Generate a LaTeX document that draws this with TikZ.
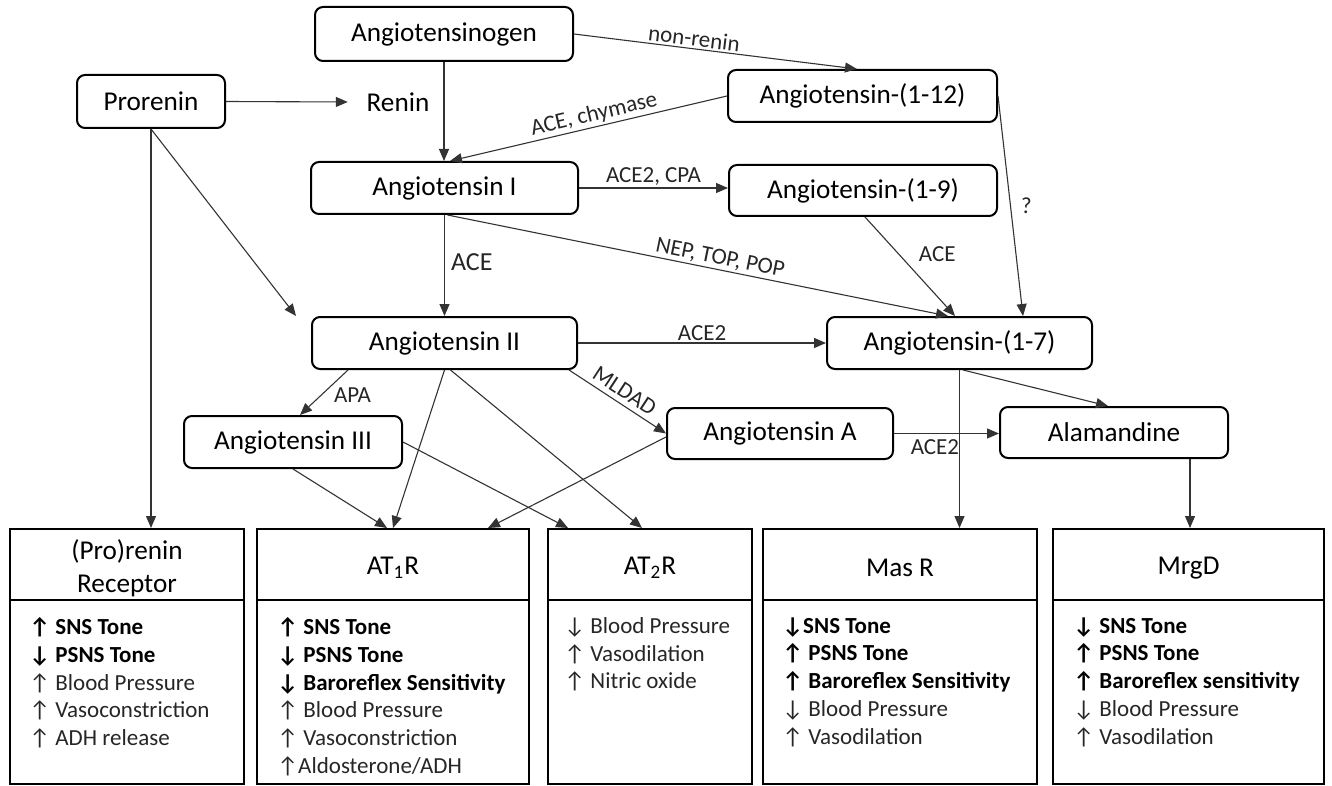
\documentclass[tikz,border=0pt]{standalone}
\usepackage{fontspec}
\setmainfont{Carlito}
\usetikzlibrary{arrows.meta,calc}
\tikzset{
  box/.style={draw=black, line width=1pt, rounded corners=4pt, font=\fontsize{13.6}{16}\selectfont, inner sep=0pt},
  arr/.style={draw=black!80, line width=0.55pt, -{Triangle[length=6pt,width=5pt]}},
  lbl/.style={font=\fontsize{11.5}{13}\selectfont, text=black!85, inner sep=1pt},
  biglbl/.style={font=\fontsize{13}{15}\selectfont, text=black!85, inner sep=1pt},
  hdr/.style={draw=black, line width=1pt, inner sep=0pt},
  hdrtext/.style={font=\fontsize{13.6}{16.5}\selectfont, align=center, inner sep=0pt},
  bodybox/.style={draw=black, line width=1pt, inner sep=0pt},
  items/.style={font=\fontsize{11.5}{13.9}\selectfont, align=left, anchor=north west, inner sep=0pt, text=black!85},
}
\begin{document}
\begin{tikzpicture}[x=0.5pt, y=-0.5pt]
\useasboundingbox (0,0) rectangle (1332,786);
% main nodes
\node[box, minimum width=129pt, minimum height=27pt] (ago) at (444,34) {Angiotensinogen};
\node[box, minimum width=74pt, minimum height=26.5pt] (pro) at (151,101.5) {Prorenin};
\node[font=\fontsize{13.6}{16}\selectfont, inner sep=0pt] (renin) at (398,102) {Renin};
\node[box, minimum width=134.5pt, minimum height=26pt] (a12) at (862.5,96) {Angiotensin-(1-12)};
\node[box, minimum width=133.5pt, minimum height=26pt] (a1) at (444.5,188) {Angiotensin I};
\node[box, minimum width=134pt, minimum height=25.5pt] (a9) at (863,190.5) {Angiotensin-(1-9)};
\node[box, minimum width=132.5pt, minimum height=26pt] (a2) at (444.5,343) {Angiotensin II};
\node[box, minimum width=132.5pt, minimum height=26pt] (a7) at (959.5,343) {Angiotensin-(1-7)};
\node[box, minimum width=109pt, minimum height=26pt] (a3) at (293,442) {Angiotensin III};
\node[box, minimum width=113pt, minimum height=25.5pt] (aA) at (780,433.5) {Angiotensin A};
\node[box, minimum width=114pt, minimum height=25.5pt] (ala) at (1114,432.5) {Alamandine};
% receptor boxes
\node[hdr, minimum width=117pt, minimum height=35.5pt] (prrH) at (127,564.5) {};
\node[hdr, minimum width=136pt, minimum height=35.5pt] (at1H) at (393,564.5) {};
\node[hdr, minimum width=102pt, minimum height=35.5pt] (at2H) at (650,564.5) {};
\node[hdr, minimum width=137pt, minimum height=35.5pt] (masH) at (900,564.5) {};
\node[hdr, minimum width=135.5pt, minimum height=35.5pt] (mrgH) at (1188.5,564.5) {};
\node[hdrtext] (prrT) at ([yshift=-1.75pt]prrH.center) {(Pro)renin\\Receptor};
\node[hdrtext] (at1T) at ([yshift=-1.5pt]at1H.center) {AT\textsubscript{1}R};
\node[hdrtext] (at2T) at ([yshift=-1.5pt]at2H.center) {AT\textsubscript{2}R};
\node[hdrtext] (masT) at ([yshift=-1.75pt]masH.center) {Mas R};
\node[hdrtext] (mrgT) at ([yshift=-1.75pt]mrgH.center) {MrgD};
\node[bodybox, minimum width=117pt, minimum height=92pt] (prrB) at (127,692) {};
\node[bodybox, minimum width=136pt, minimum height=92pt] (at1B) at (393,692) {};
\node[bodybox, minimum width=102pt, minimum height=92pt] (at2B) at (650,692) {};
\node[bodybox, minimum width=137pt, minimum height=92pt] (masB) at (900,692) {};
\node[bodybox, minimum width=135.5pt, minimum height=92pt] (mrgB) at (1188.5,692) {};
% items
\node[items] (prrI) at (29,617) {\textbf{\color{black}↑ SNS Tone}\\\textbf{\color{black}↓ PSNS Tone}\\↑ Blood Pressure\\↑ Vasoconstriction\\↑ ADH release};
\node[items] (at1I) at (277,617) {\textbf{\color{black}↑ SNS Tone}\\\textbf{\color{black}↓ PSNS Tone}\\\textbf{\color{black}↓ Baroreflex Sensitivity}\\↑ Blood Pressure\\↑ Vasoconstriction\\↑Aldosterone/ADH};
\node[items] (at2I) at (564,617) {↓ Blood Pressure\\↑ Vasodilation\\↑ Nitric oxide};
\node[items] (masI) at (782,617) {\textbf{\color{black}↓SNS Tone}\\\textbf{\color{black}↑ PSNS Tone}\\\textbf{\color{black}↑ Baroreflex Sensitivity}\\↓ Blood Pressure\\↑ Vasodilation};
\node[items] (mrgI) at (1073,617) {\textbf{\color{black}↓ SNS Tone}\\\textbf{\color{black}↑ PSNS Tone}\\\textbf{\color{black}↑ Baroreflex sensitivity}\\↓ Blood Pressure\\↑ Vasodilation};
% connectors
\draw[arr] (pro.east) -- ([xshift=-9.25pt]renin.west);
\draw[arr] (ago.south) -- (ago.south |- a1.north);
\draw[arr] (ago.east) -- node[lbl, sloped, above, pos=0.42]{non-renin} ([xshift=-2.75pt]a12.north);
\draw[arr] (a12.west) -- node[lbl, sloped, above, pos=0.47]{ACE, chymase} ([xshift=2.75pt]a1.north);
\draw[arr] (a1.east) -- node[lbl, above]{ACE2, CPA} (a1.east -| a9.west);
\draw[arr] ([xshift=1.5pt]a1.south) -- node[lbl, sloped, above, pos=0.54]{NEP, TOP, POP} ([xshift=-5.75pt]a7.north);
\draw[arr] (a1.south) -- node[biglbl, right=2pt, pos=0.47]{ACE} (a1.south |- a2.north);
\draw[arr] ([xshift=1pt]a9.south) -- node[lbl, pos=0.37, right=9pt]{ACE} ([xshift=-2.25pt]a7.north);
\draw[arr] (a12.east) -- node[lbl, pos=0.5, right=4pt]{?} ([xshift=31.75pt]a7.north);
\draw[arr] (pro.south) -- (pro.south |- prrH.north);
\draw[arr] (pro.south) -- ([xshift=-7.5pt]a2.north west);
\draw[arr] ([xshift=-48.25pt]a2.south) -- node[lbl, right=5pt, pos=0.55]{APA} ([xshift=3.5pt]a3.north);
\draw[arr] (a2.south) -- (at1H.north);
\draw[arr] ([xshift=3pt]a2.south) -- ([xshift=-4pt]at2H.north);
\draw[arr] (a2.east) -- node[lbl, above]{ACE2} (a2.east -| a7.west);
\draw[arr] ([xshift=-4.5pt]a2.south east) -- node[lbl, sloped, above=1.5pt, pos=0.5]{MLDAD} (aA.west);
\draw[arr] (a3.south) -- ([xshift=-3pt]at1H.north);
\draw[arr] (a3.east) -- ([xshift=-41pt]at2H.north);
\draw[arr] ([yshift=-1.75pt]aA.west) -- ([xshift=47.5pt]at1H.north);
\draw[arr] (aA.east) -- node[lbl, below=2pt, pos=0.39]{ACE2} (aA.east -| ala.west);
\draw[arr] (a7.south) -- (a7.south |- masH.north);
\draw[arr] ([xshift=1.75pt]a7.south) -- ([xshift=-3pt]ala.north);
\draw[arr] ([xshift=38pt]ala.south) -- ([xshift=38pt]ala.south |- mrgH.north);
\end{tikzpicture}
\end{document}
